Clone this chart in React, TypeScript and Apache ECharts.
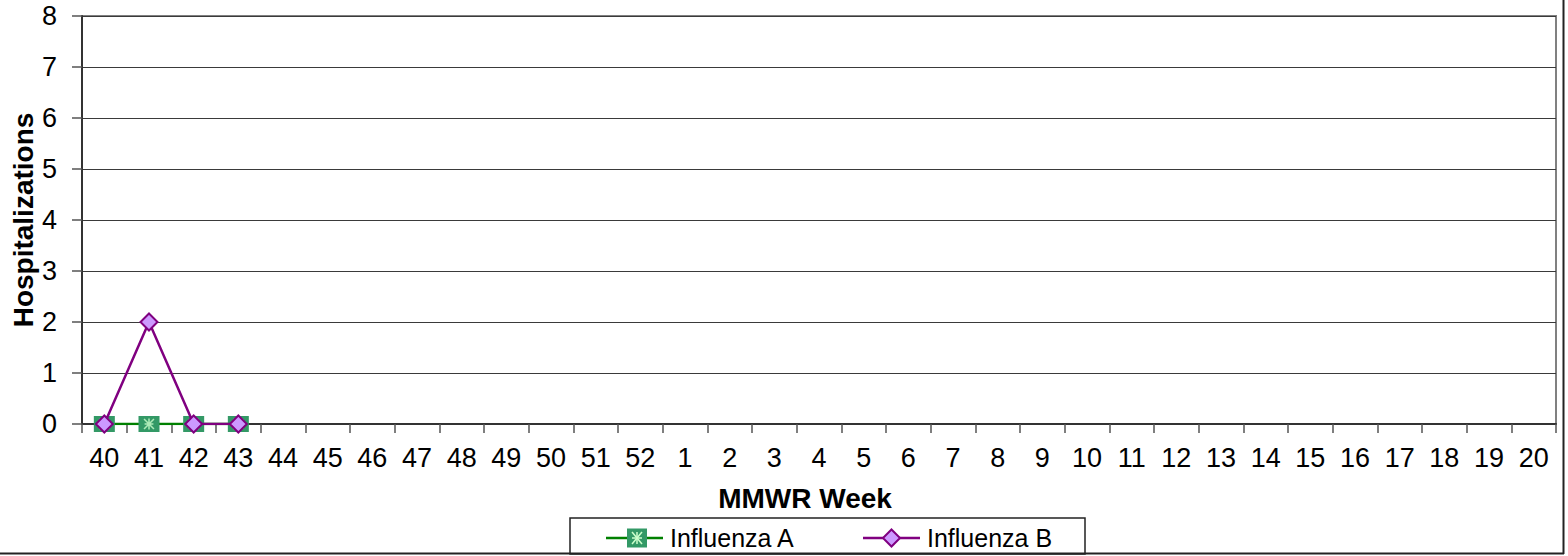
import React, { useEffect, useRef } from "react";
import * as echarts from "echarts";

const weeks: string[] = [
  "40", "41", "42", "43", "44", "45", "46", "47", "48", "49", "50", "51", "52",
  "1", "2", "3", "4", "5", "6", "7", "8", "9", "10", "11", "12", "13", "14", "15", "16", "17", "18", "19", "20",
];
const influenzaA: (number | null)[] = [0, 0, 0, 0];
const influenzaB: (number | null)[] = [0, 2, 0, 0];
const yTicks = { min: 0, max: 8, interval: 1 };
const seriesNames = ["Influenza A", "Influenza B"];
const yTitle = "Hospitalizations";
const xTitle = "MMWR Week";

const FONT = "Arial, 'Liberation Sans', sans-serif";
const ASTERISK =
  "path://M4.3,0 L5.7,0 L5.7,10 L4.3,10 Z M0,1 L1,0 L10,9 L9,10 Z M9,0 L10,1 L1,10 L0,9 Z M1,4.3 L9,4.3 L9,5.7 L1,5.7 Z";

export default function App() {
  const ref = useRef<HTMLDivElement>(null);
  useEffect(() => {
    if (!ref.current) return;
    const chart = echarts.init(ref.current, undefined, { renderer: "svg" });
    const lx = 570, ly = 518, lh = 36, lw = 515, cy = ly + lh / 2 + 2;
    chart.setOption({
      animation: false,
      backgroundColor: "#ffffff",
      grid: {
        left: 82, right: 12, top: 16, bottom: 132,
        show: true, borderColor: "#808080", borderWidth: 2, backgroundColor: "transparent",
      },
      xAxis: {
        type: "category",
        data: weeks,
        boundaryGap: true,
        axisLine: { lineStyle: { color: "#333", width: 2 } },
        axisTick: { show: true, interval: 0, length: 9, lineStyle: { color: "#555", width: 1.5 } },
        axisLabel: { interval: 0, margin: 20, color: "#000", fontSize: 27, fontFamily: FONT },
        splitLine: { show: false },
      },
      yAxis: {
        type: "value",
        min: yTicks.min, max: yTicks.max, interval: yTicks.interval,
        axisLine: { show: true, lineStyle: { color: "#333", width: 2 } },
        axisTick: { show: true, length: 10, lineStyle: { color: "#555", width: 1.5 } },
        axisLabel: { margin: 25, color: "#000", fontSize: 27, fontFamily: FONT },
        splitLine: { show: true, lineStyle: { color: "#3a3a3a", width: 1.2 } },
      },
      series: [
        {
          name: seriesNames[0],
          type: "line",
          z: 2,
          data: influenzaA,
          symbol: "rect",
          symbolSize: [21, 16],
          showAllSymbol: true,
          lineStyle: { color: "#008000", width: 2.5 },
          itemStyle: { color: "#339966", borderWidth: 0 },
        },
        {
          name: seriesNames[0] + " marker",
          type: "scatter",
          z: 3,
          data: influenzaA,
          symbol: ASTERISK,
          symbolSize: [11, 11],
          itemStyle: { color: "#ccffcc" },
        },
        {
          name: seriesNames[1],
          type: "line",
          z: 4,
          data: influenzaB,
          symbol: "diamond",
          symbolSize: [17, 17],
          showAllSymbol: true,
          lineStyle: { color: "#800080", width: 2.5 },
          itemStyle: { color: "#cc99ff", borderColor: "#800080", borderWidth: 2 },
        },
      ],
      graphic: [
        {
          type: "text",
          x: 23, y: 220, rotation: Math.PI / 2,
          style: { text: yTitle, x: 0, y: 0, align: "center", verticalAlign: "middle", fill: "#000", font: `bold 28px ${FONT}` },
        },
        {
          type: "text",
          x: 805, y: 498,
          style: { text: xTitle, x: 0, y: 0, align: "center", verticalAlign: "middle", fill: "#000", font: `bold 28px ${FONT}` },
        },
        {
          type: "rect",
          shape: { x: lx, y: ly, width: lw, height: lh },
          style: { fill: "#fff", stroke: "#222", lineWidth: 1.5 },
        },
        { type: "line", shape: { x1: 606, y1: cy, x2: 663, y2: cy }, style: { stroke: "#008000", lineWidth: 2.5 } },
        { type: "rect", shape: { x: 627, y: cy - 9.5, width: 20, height: 19 }, style: { fill: "#339966" } },
        {
          type: "polyline",
          shape: { points: [[637, cy - 6], [637, cy + 6]] },
          style: { stroke: "#ccffcc", lineWidth: 1.5, fill: "none" },
        },
        {
          type: "polyline",
          shape: { points: [[632, cy - 6], [642, cy + 6]] },
          style: { stroke: "#ccffcc", lineWidth: 1.5, fill: "none" },
        },
        {
          type: "polyline",
          shape: { points: [[642, cy - 6], [632, cy + 6]] },
          style: { stroke: "#ccffcc", lineWidth: 1.5, fill: "none" },
        },
        {
          type: "polyline",
          shape: { points: [[632, cy], [642, cy]] },
          style: { stroke: "#ccffcc", lineWidth: 1.5, fill: "none" },
        },
        {
          type: "text", x: 670, y: cy,
          style: { text: seriesNames[0], x: 0, y: 0, align: "left", verticalAlign: "middle", fill: "#000", font: `25px ${FONT}` },
        },
        { type: "line", shape: { x1: 863, y1: cy, x2: 920, y2: cy }, style: { stroke: "#800080", lineWidth: 2.5 } },
        {
          type: "polygon",
          shape: { points: [[891.5, cy - 8.5], [900, cy], [891.5, cy + 8.5], [883, cy]] },
          style: { fill: "#cc99ff", stroke: "#800080", lineWidth: 2 },
        },
        {
          type: "text", x: 927, y: cy,
          style: { text: seriesNames[1], x: 0, y: 0, align: "left", verticalAlign: "middle", fill: "#000", font: `25px ${FONT}` },
        },
        { type: "line", shape: { x1: 1563.5, y1: 0, x2: 1563.5, y2: 554 }, style: { stroke: "#222", lineWidth: 2 } },
        { type: "line", shape: { x1: 0, y1: 553.5, x2: 1564, y2: 553.5 }, style: { stroke: "#222", lineWidth: 2 } },
      ],
    });
    return () => chart.dispose();
  }, []);
  return (
    <div
      ref={ref}
      style={{ position: "fixed", left: 0, top: 0, width: 1568, height: 556, background: "#fff" }}
    />
  );
}
